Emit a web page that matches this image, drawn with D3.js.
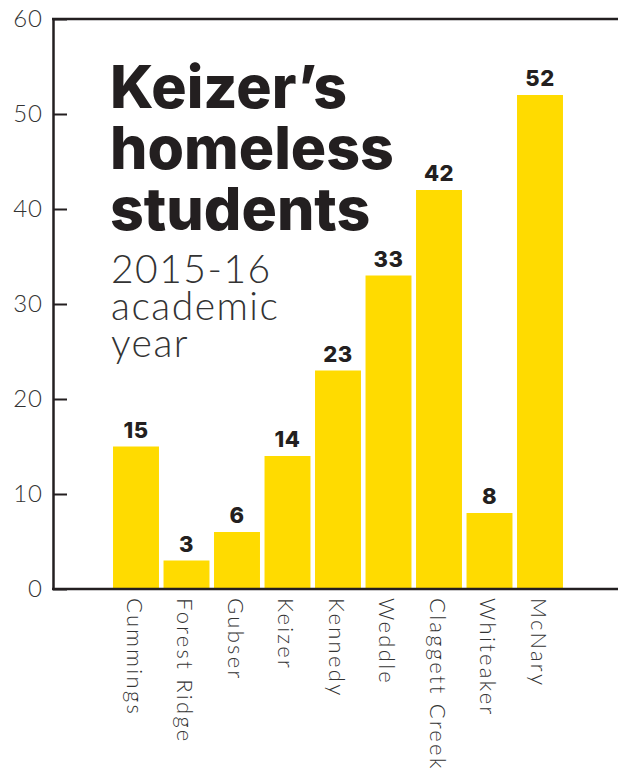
<!DOCTYPE html>
<html lang="en">
<head>
<meta charset="UTF-8">
<title>Keizer's homeless students</title>
<script src="https://d3js.org/d3.v7.min.js"></script>
<style>
  body { margin: 0; background: #fff; }
  svg { display: block; }
</style>
</head>
<body>
<div id="chart"></div>
<script>
// data
const schools = ["Cummings", "Forest Ridge", "Gubser", "Keizer", "Kennedy", "Weddle", "Claggett Creek", "Whiteaker", "McNary"];
const students = [15, 3, 6, 14, 23, 33, 42, 8, 52];
const yTicks = [0, 10, 20, 30, 40, 50, 60];
const titleLines = ["Keizer\u2019s", "homeless", "students"];
const subtitleLines = ["2015-16", "academic", "year"];

const W = 618, H = 783;
const axisX = 53;
const dark = "#231f20";
const lightFont = "Lato, Inter, 'Noto Sans', sans-serif";
const boldFont = "Inter, 'Noto Sans', sans-serif";

const svg = d3.select("#chart").append("svg")
    .attr("width", W)
    .attr("height", H);

const y = d3.scaleLinear()
    .domain([0, 60])
    .range([589, 19]);

const x = d3.scaleBand()
    .domain(schools)
    .range([110.75, 565.25])
    .paddingInner(0.09)
    .paddingOuter(0.045);

// bars
svg.append("g")
  .selectAll("rect")
  .data(schools)
  .join("rect")
    .attr("x", d => x(d))
    .attr("y", (d, i) => y(students[i]))
    .attr("width", x.bandwidth())
    .attr("height", (d, i) => y(0) - y(students[i]))
    .attr("fill", "#ffdb00");

// value labels
svg.append("g")
  .selectAll("text")
  .data(schools)
  .join("text")
    .attr("x", d => x(d) + x.bandwidth() / 2)
    .attr("y", (d, i) => y(students[i]) - 9)
    .attr("text-anchor", "middle")
    .style("font-family", boldFont)
    .style("font-weight", 800)
    .style("font-size", "22px")
    .style("letter-spacing", "0.5px")
    .attr("fill", dark)
    .text((d, i) => students[i]);

// y axis, ticks pointing into the plot
const yAxis = svg.append("g")
    .attr("transform", "translate(" + axisX + ",0)")
    .call(d3.axisLeft(y).tickValues(yTicks).tickSizeInner(-14).tickSizeOuter(0).tickPadding(10));
yAxis.select(".domain").attr("stroke", dark).attr("stroke-width", 2.5);
yAxis.selectAll(".tick line").attr("stroke", dark).attr("stroke-width", 2);
yAxis.selectAll(".tick text")
    .style("font-family", lightFont)
    .style("font-weight", 300)
    .style("font-size", "24px")
    .style("letter-spacing", "1px")
    .attr("fill", "#333");

// top and bottom frame lines
svg.append("line")
    .attr("x1", axisX - 1).attr("x2", W)
    .attr("y1", y(60)).attr("y2", y(60))
    .attr("stroke", dark).attr("stroke-width", 2.5);
svg.append("line")
    .attr("x1", axisX - 1).attr("x2", W)
    .attr("y1", y(0)).attr("y2", y(0))
    .attr("stroke", dark).attr("stroke-width", 2.5);

// x labels, rotated to read downward
const xAxis = svg.append("g")
    .attr("transform", "translate(0," + y(0) + ")")
    .call(d3.axisBottom(x).tickSize(0));
xAxis.select(".domain").remove();
xAxis.selectAll(".tick text")
    .attr("transform", "rotate(90)")
    .attr("x", 9)
    .attr("y", 2)
    .attr("dy", "0.32em")
    .attr("text-anchor", "start")
    .style("font-family", lightFont)
    .style("font-weight", 300)
    .style("font-size", "22px")
    .style("letter-spacing", "2.3px")
    .attr("fill", "#333");

// title block
svg.append("g")
  .selectAll("text")
  .data(titleLines)
  .join("text")
    .attr("x", 110)
    .attr("y", (d, i) => 108 + i * 61)
    .style("font-family", boldFont)
    .style("font-weight", 800)
    .style("font-size", "59px")
    .attr("fill", dark)
    .text(d => d);

svg.append("g")
  .selectAll("text")
  .data(subtitleLines)
  .join("text")
    .attr("x", 111)
    .attr("y", (d, i) => 283 + i * 37)
    .style("font-family", lightFont)
    .style("font-weight", 300)
    .style("font-size", "39px")
    .style("letter-spacing", "1.5px")
    .attr("fill", "#333")
    .text(d => d);
</script>
</body>
</html>
